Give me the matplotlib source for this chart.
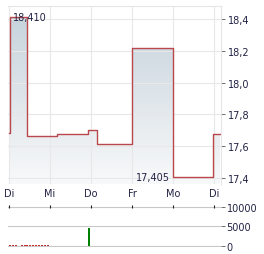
import numpy as np
import matplotlib.pyplot as plt
from matplotlib.colors import LinearSegmentedColormap

# step series: day index (0 = Di) and price after each step
price_x = [0.0, 0.02, 0.44, 1.17, 1.93, 2.15, 3.0, 4.0, 4.98, 5.15]
price_y = [17.68, 18.41, 17.664, 17.675, 17.704, 17.612, 18.22, 17.405, 17.675, 17.675]
day_labels = ['Di', 'Mi', 'Do', 'Fr', 'Mo', 'Di']
y_ticks = [17.4, 17.6, 17.8, 18.0, 18.2, 18.4]

vol_x = [0.03, 0.1, 0.17, 0.24, 0.31, 0.38, 0.45, 0.52, 0.59, 0.66, 0.73, 0.8, 0.87, 0.94, 1.95]
vol_y = [200, 150, 200, 120, 200, 200, 200, 200, 200, 200, 200, 200, 200, 200, 4700]
vol_ticks = [0, 5000, 10000]

text_col = '#222244'
W, H = 264, 255
fig = plt.figure(figsize=(W / 100, H / 100), dpi=100)

ax = fig.add_axes([8 / W, 1 - 185 / H, 213 / W, 178 / H])
ax.set_xlim(-0.024, 5.17)
ax.set_ylim(17.362, 18.482)

# gradient under the step line
cmap = LinearSegmentedColormap.from_list('g', ['#f8f9fa', '#c4d1da'])
grad = np.linspace(0, 1, 256).reshape(-1, 1)
img = ax.imshow(grad, extent=[-0.024, 5.17, 17.362, 18.482], origin='lower',
                aspect='auto', cmap=cmap, zorder=1)
poly = ax.fill_between(price_x, price_y, 17.362, step='post', color='none')
img.set_clip_path(poly.get_paths()[0], transform=ax.transData)

ax.step(price_x, price_y, where='post', color='#b8484c', lw=1.0, zorder=3)

ax.set_xticks(range(len(day_labels)))
ax.set_xticklabels(day_labels)
ax.set_yticks(y_ticks)
ax.set_yticklabels([f'{v:.1f}'.replace('.', ',') for v in y_ticks])
ax.yaxis.tick_right()
ax.tick_params(axis='y', length=3, width=0.6, color='#555555', labelsize=7,
               labelcolor=text_col, pad=2)
ax.tick_params(axis='x', length=0, labelsize=7, labelcolor=text_col, pad=3)
ax.grid(True, color='#e8e8e8', lw=0.8, zorder=0)
for s in ax.spines.values():
    s.set_color('#e6e6e6')
    s.set_linewidth(0.8)
ax.spines['left'].set_visible(False)
ax.spines['bottom'].set_visible(False)

ax.text(0.1, 18.41, '18,410', fontsize=7, color=text_col, va='center', ha='left', zorder=4)
ax.text(3.92, 17.405, '17,405', fontsize=7, color=text_col, va='center', ha='right', zorder=4)

# volume panel
vx = fig.add_axes([8 / W, 1 - 248 / H, 213 / W, 42 / H])
vx.set_xlim(-0.024, 5.17)
vx.set_ylim(-250, 10450)
for t in vol_ticks:
    vx.axhline(t, color='#c8c8c8', lw=0.8, zorder=0)
cols = ['#008000' if v > 1000 else '#c03030' for v in vol_y]
vx.bar(vol_x, vol_y, width=0.05, color=cols, zorder=3)
vx.set_yticks(vol_ticks)
vx.set_yticklabels([str(v) for v in vol_ticks])
vx.yaxis.tick_right()
vx.tick_params(axis='y', length=3, width=0.6, color='#555555', labelsize=7,
               labelcolor=text_col, pad=1)
vx.set_xticks(range(len(day_labels)))
vx.xaxis.tick_top()
vx.tick_params(axis='x', direction='in', length=2, width=0.8, color='#222222',
               labeltop=False, pad=0)
for s in vx.spines.values():
    s.set_visible(False)

fig.savefig('out.png', dpi=100)
